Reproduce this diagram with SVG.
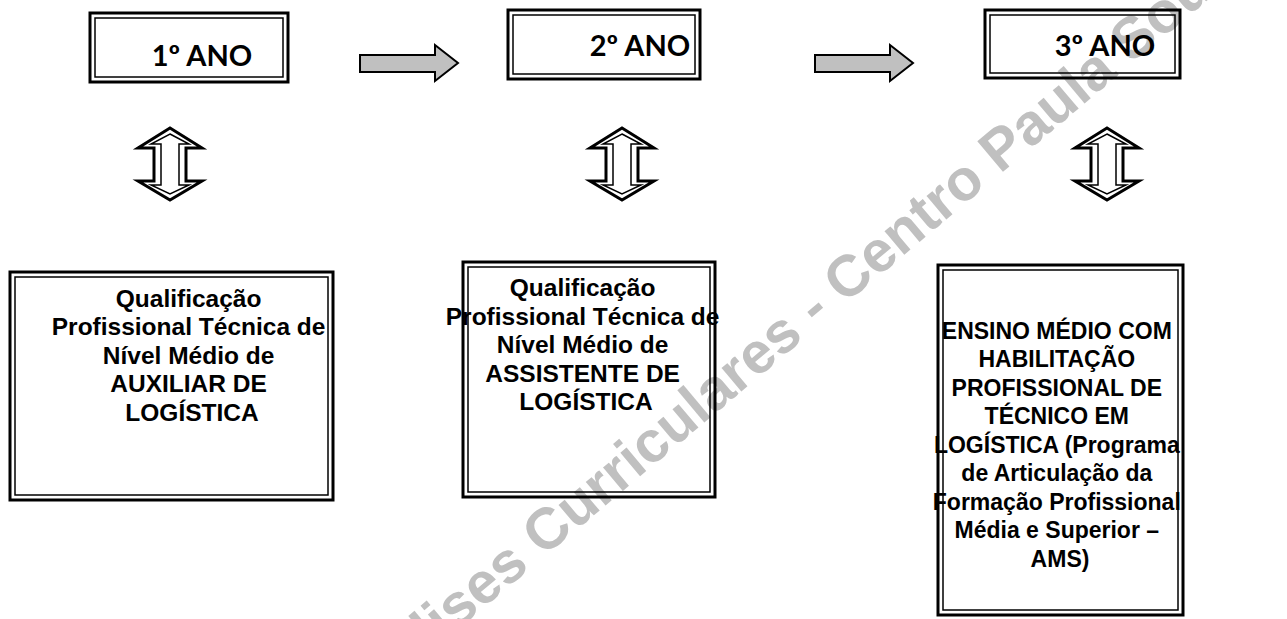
<svg xmlns="http://www.w3.org/2000/svg" width="1287" height="619" viewBox="0 0 1287 619">
<defs>
<style>
.outer{fill:none;stroke:#000;stroke-width:3}
.inner{fill:none;stroke:#000;stroke-width:1.5}
.lab{font-family:Lato,"Open Sans",sans-serif;font-weight:700;font-size:29px;fill:#000;text-anchor:middle}
.body{font-family:"Liberation Sans",Arial,sans-serif;font-weight:700;font-size:24.5px;fill:#000;text-anchor:middle}
.bodyc{font-family:"Liberation Sans",Arial,sans-serif;font-weight:700;font-size:23px;fill:#000;text-anchor:middle}
.arr{fill:#c0c0c0;stroke:#000;stroke-width:2;stroke-linejoin:miter}
.dblo{fill:#fff;stroke:#000;stroke-width:3;stroke-linejoin:miter;stroke-miterlimit:10}
.dbli{fill:none;stroke:#000;stroke-width:1.5;stroke-linejoin:miter;stroke-miterlimit:10}
.wm{font-family:"Liberation Sans",Arial,sans-serif;font-weight:700;font-size:58px;fill:#c0c0c0;stroke:#fff;stroke-width:3;paint-order:stroke;text-anchor:middle}
</style>
<g id="ud">
<path class="dblo" d="M0,-36 L32,-16 L16,-16 L16,17 L32,17 L0,36 L-32,17 L-16,17 L-16,-16 L-32,-16 Z"/>
<path class="dbli" d="M0,-30 L19,-20 L9,-20 L9,21 L19,21 L0,30 L-19,21 L-9,21 L-9,-20 L-19,-20 Z"/>
</g>
</defs>
<rect width="1287" height="619" fill="#fff"/>

<text class="wm" transform="translate(805,338) rotate(-40)">Análises Curriculares - Centro Paula Souza</text>

<g id="connectors">
<path class="arr" d="M360,55 L435,55 L435,45 L458,63 L435,81 L435,72 L360,72 Z"/>
<path class="arr" d="M815,55 L890,55 L890,45 L913,63 L890,81 L890,72 L815,72 Z"/>
<use href="#ud" x="170" y="164"/>
<use href="#ud" x="622" y="164"/>
<use href="#ud" x="1107" y="164"/>
</g>

<g id="ano1">
<rect class="outer" x="90" y="13" width="198" height="69"/>
<rect class="inner" x="95" y="18" width="188" height="59"/>
<text class="lab" x="202" y="66">1º ANO</text>
</g>
<g id="ano2">
<rect class="outer" x="508" y="10" width="192" height="69"/>
<rect class="inner" x="513" y="15" width="182" height="59"/>
<text class="lab" x="640" y="56">2º ANO</text>
</g>
<g id="ano3">
<rect class="outer" x="985" y="10" width="195" height="68"/>
<rect class="inner" x="990" y="15" width="185" height="58"/>
<text class="lab" x="1105" y="56">3º ANO</text>
</g>

<g id="qual1">
<rect class="outer" x="10" y="272" width="323" height="228"/>
<rect class="inner" x="15" y="277" width="313" height="218"/>
<text class="body" x="192">
<tspan x="192" y="306.5">Qualificação</tspan>
<tspan x="192" y="335">Profissional Técnica de</tspan>
<tspan x="192" y="363.5">Nível Médio de</tspan>
<tspan x="192" y="392">AUXILIAR DE</tspan>
<tspan x="192" y="420.5">LOGÍSTICA</tspan>
</text>
</g>
<g id="qual2">
<rect class="outer" x="463" y="262" width="252" height="235"/>
<rect class="inner" x="468" y="267" width="242" height="225"/>
<text class="body" x="586">
<tspan x="586" y="296">Qualificação</tspan>
<tspan x="586" y="324.5">Profissional Técnica de</tspan>
<tspan x="586" y="353">Nível Médio de</tspan>
<tspan x="586" y="381.5">ASSISTENTE DE</tspan>
<tspan x="586" y="410">LOGÍSTICA</tspan>
</text>
</g>
<g id="tecnico">
<rect class="outer" x="938" y="265" width="245" height="350"/>
<rect class="inner" x="943" y="270" width="235" height="340"/>
<text class="bodyc" x="1060">
<tspan x="1060" y="338.5">ENSINO MÉDIO COM</tspan>
<tspan x="1060" y="367">HABILITAÇÃO</tspan>
<tspan x="1060" y="395.5">PROFISSIONAL DE</tspan>
<tspan x="1060" y="424">TÉCNICO EM</tspan>
<tspan x="1060" y="452.5">LOGÍSTICA (Programa</tspan>
<tspan x="1060" y="481">de Articulação da</tspan>
<tspan x="1060" y="509.5">Formação Profissional</tspan>
<tspan x="1060" y="538">Média e Superior –</tspan>
<tspan x="1060" y="566.5">AMS)</tspan>
</text>
</g>
</svg>
